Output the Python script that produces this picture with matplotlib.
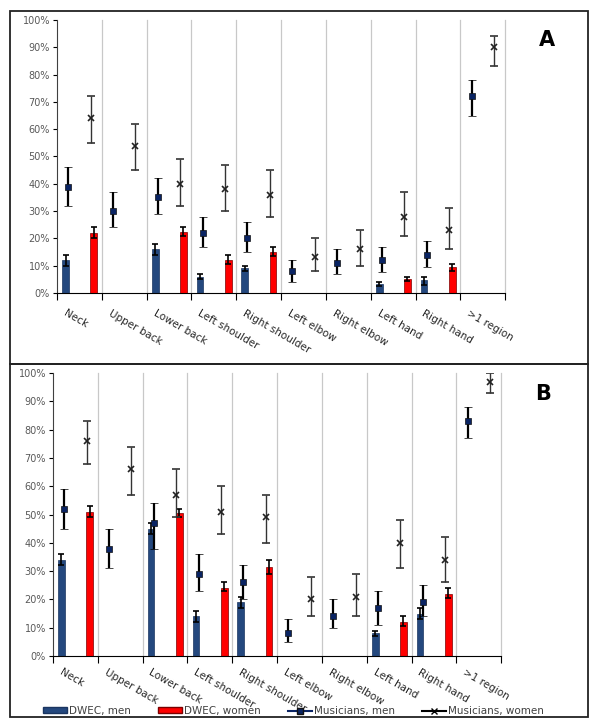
import numpy as np
import matplotlib
matplotlib.use("Agg")
import matplotlib.pyplot as plt
from matplotlib.patches import Rectangle, Patch
from matplotlib.lines import Line2D
from matplotlib.transforms import offset_copy

nan = np.nan

categories = ["Neck", "Upper back", "Lower back", "Left shoulder", "Right shoulder",
              "Left elbow", "Right elbow", "Left hand", "Right hand", ">1 region"]

# panel A
a_dwec_men = [12, nan, 16, 6, 9, nan, nan, 3.3, 4.8, nan]
a_dwec_men_lo = [10, nan, 14, 5, 8, nan, nan, 2.5, 3, nan]
a_dwec_men_hi = [14, nan, 18, 7, 10, nan, nan, 4, 6, nan]
a_dwec_women = [22, nan, 22.5, 12, 15, nan, nan, 5, 9.4, nan]
a_dwec_women_lo = [20, nan, 21, 10.5, 13.5, nan, nan, 4.5, 8, nan]
a_dwec_women_hi = [24, nan, 24, 14, 17, nan, nan, 6, 10.6, nan]
a_mus_men = [39, 30, 35, 22, 20, 8, 11, 12, 14, 72]
a_mus_men_lo = [32, 24, 29, 17, 15, 4, 7, 7.7, 9.6, 65]
a_mus_men_hi = [46, 37, 42, 28, 26, 12, 16, 17, 19, 78]
a_mus_women = [64, 54, 40, 38, 36, 13, 16, 28, 23, 90]
a_mus_women_lo = [55, 45, 32, 30, 28, 8, 10, 21, 16, 83]
a_mus_women_hi = [72, 62, 49, 47, 45, 20, 23, 37, 31, 94]

# panel B
b_dwec_men = [34, nan, 45, 14, 19, nan, nan, 8, 15, nan]
b_dwec_men_lo = [32, nan, 43, 12, 17, nan, nan, 7, 13, nan]
b_dwec_men_hi = [36, nan, 47, 16, 21, nan, nan, 9, 17, nan]
b_dwec_women = [51, nan, 50.5, 24, 31.5, nan, nan, 12, 22, nan]
b_dwec_women_lo = [49, nan, 49, 23, 29, nan, nan, 10.5, 20.5, nan]
b_dwec_women_hi = [53, nan, 52, 26, 34, nan, nan, 14, 24, nan]
b_mus_men = [52, 38, 47, 29, 26, 8, 14, 17, 19, 83]
b_mus_men_lo = [45, 31, 38, 23, 20, 5, 10, 11, 14, 77]
b_mus_men_hi = [59, 45, 54, 36, 32, 13, 20, 23, 25, 88]
b_mus_women = [76, 66, 57, 51, 49, 20, 21, 40, 34, 97]
b_mus_women_lo = [68, 57, 49, 43, 40, 14, 14, 31, 26, 93]
b_mus_women_hi = [83, 74, 66, 60, 57, 28, 29, 48, 42, 100]

BLUE = "#24487e"
RED = "#ff0000"
NAVY = "#0a2463"


def yerr(v, lo, hi):
    v, lo, hi = np.array(v, float), np.array(lo, float), np.array(hi, float)
    return np.vstack([v - lo, hi - v])


def draw_panel(ax, dm, dm_lo, dm_hi, dw, dw_lo, dw_hi, mm, mm_lo, mm_hi, mw, mw_lo, mw_hi,
               letter, label_drop):
    x = np.arange(len(categories))
    ax.bar(x - 0.31, np.nan_to_num(dm), 0.15, color=BLUE, edgecolor="#1a3560", lw=0.5, zorder=2)
    ax.bar(x + 0.32, np.nan_to_num(dw), 0.15, color=RED, edgecolor="#7a0000", lw=0.5, zorder=2)
    ax.errorbar(x - 0.31, dm, yerr=yerr(dm, dm_lo, dm_hi), fmt="none", ecolor="black",
                elinewidth=1.2, capsize=2.5, capthick=1.2, zorder=3)
    ax.errorbar(x + 0.32, dw, yerr=yerr(dw, dw_lo, dw_hi), fmt="none", ecolor="black",
                elinewidth=1.2, capsize=2.5, capthick=1.2, zorder=3)
    ax.errorbar(x - 0.25, mm, yerr=yerr(mm, mm_lo, mm_hi), fmt="s", color=NAVY, ms=5,
                mec="#111111", mew=0.5, ecolor="black", elinewidth=1.6, capsize=3,
                capthick=1.6, zorder=4)
    ax.errorbar(x + 0.25, mw, yerr=yerr(mw, mw_lo, mw_hi), fmt="x", color="#222222", ms=5,
                mew=1.2, ecolor="#333333", elinewidth=1.0, capsize=3, capthick=1.0, zorder=4)

    ax.set_xlim(-0.5, 9.5)
    ax.set_ylim(0, 100)
    ax.set_yticks(range(0, 101, 10))
    ax.set_yticklabels([f"{t}%" for t in range(0, 101, 10)], fontsize=7, color="#595959")
    ax.set_xticks(np.arange(-0.5, 10, 1))
    ax.set_xticklabels([])
    for b in np.arange(0.5, 10, 1):
        ax.axvline(b, color="#c8c8c8", lw=0.9, zorder=1, clip_on=False)
    ax.tick_params(axis="x", length=5, width=0.8, color="black", direction="out")
    ax.tick_params(axis="y", length=3, width=0.8, color="black", direction="out", pad=2)
    for s in ["top", "right"]:
        ax.spines[s].set_visible(False)
    ax.spines["left"].set_color("#404040")
    ax.spines["bottom"].set_color("black")
    trans = offset_copy(ax.get_xaxis_transform(), fig=ax.figure, y=-label_drop, units="dots")
    for i, c in enumerate(categories):
        ax.text(i - 0.28, 0, c, transform=trans, rotation=-30, rotation_mode="anchor",
                ha="left", va="top", fontsize=7.5, color="#262626")
    ax.text(1.094, 0.925, letter, transform=ax.transAxes, fontsize=15, fontweight="bold",
            ha="center", va="center")


fig = plt.figure(figsize=(6, 7.27), dpi=100)
ax_a = fig.add_axes([0.095, 0.597, 0.747, 0.3755])
ax_b = fig.add_axes([0.0883, 0.0977, 0.747, 0.389])

draw_panel(ax_a, a_dwec_men, a_dwec_men_lo, a_dwec_men_hi, a_dwec_women, a_dwec_women_lo,
           a_dwec_women_hi, a_mus_men, a_mus_men_lo, a_mus_men_hi, a_mus_women,
           a_mus_women_lo, a_mus_women_hi, "A", 15)
draw_panel(ax_b, b_dwec_men, b_dwec_men_lo, b_dwec_men_hi, b_dwec_women, b_dwec_women_lo,
           b_dwec_women_hi, b_mus_men, b_mus_men_lo, b_mus_men_hi, b_mus_women,
           b_mus_women_lo, b_mus_women_hi, "B", 11)

# panel frames
W, H = 600, 727
for (x0, y0, x1, y1) in [(10, 11, 588, 364), (10, 364, 588, 717)]:
    fig.patches.append(Rectangle((x0 / W, 1 - y1 / H), (x1 - x0) / W, (y1 - y0) / H,
                                 transform=fig.transFigure, fill=False, ec="#222222", lw=1.3))

handles = [Patch(facecolor=BLUE, edgecolor="#1a3560"),
           Patch(facecolor=RED, edgecolor="#7a0000"),
           Line2D([], [], color=NAVY, marker="s", ms=4, mec="#111111", lw=1.5),
           Line2D([], [], color="black", marker="x", ms=5, lw=1.5)]
labels = ["DWEC, men", "DWEC, women", "Musicians, men", "Musicians, women"]
fig.legend(handles, labels, loc="center left", bbox_to_anchor=(43 / W, 1 - 711 / H), ncol=4,
           frameon=False, fontsize=7.5, handlelength=2.3, handleheight=0.55,
           columnspacing=2.6, handletextpad=0.2, borderpad=0, borderaxespad=0,
           labelcolor="#404040")

fig.savefig("out.png", dpi=100)
